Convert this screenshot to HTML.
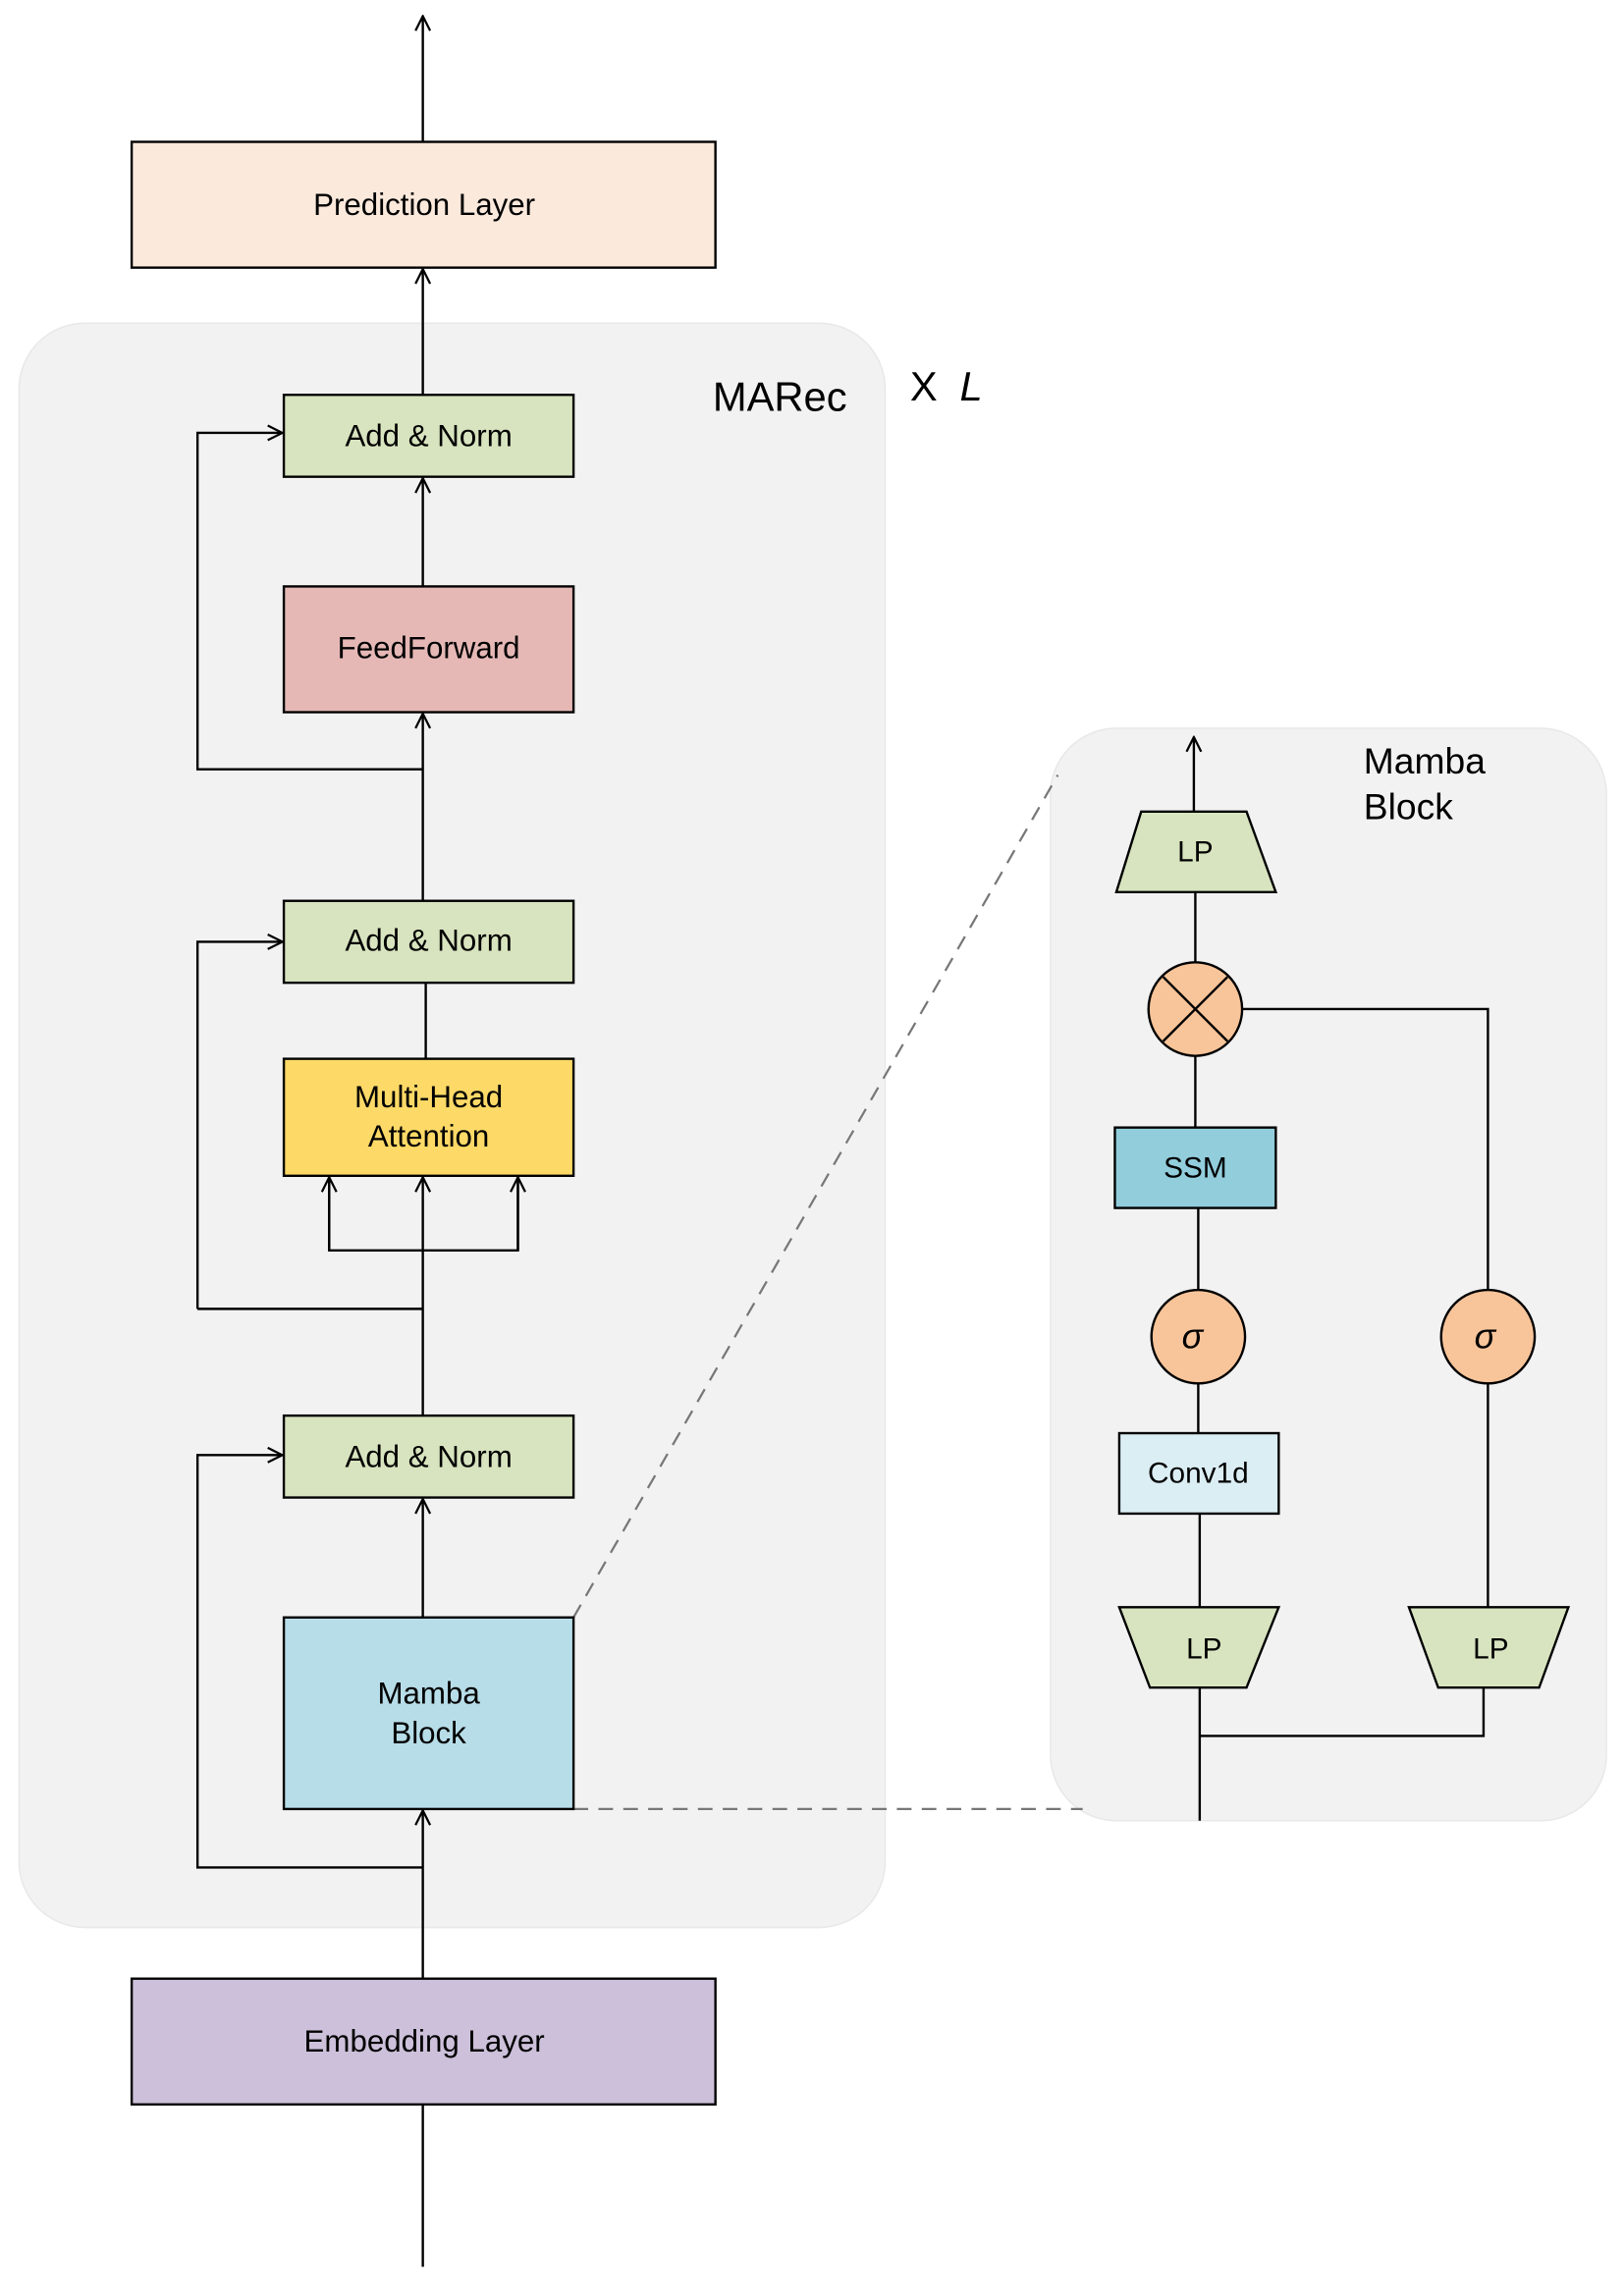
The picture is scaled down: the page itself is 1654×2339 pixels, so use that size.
<!DOCTYPE html>
<html><head><meta charset="utf-8"><style>
html,body{margin:0;padding:0;background:#fff;width:1654px;height:2339px;overflow:hidden}
svg{display:block}
text{font-family:"Liberation Sans","DejaVu Sans",sans-serif;fill:#000}
</style></head><body>
<svg width="1654" height="2339" viewBox="0 0 1110 1570" preserveAspectRatio="none" xmlns="http://www.w3.org/2000/svg">
<defs>
<marker id="a" viewBox="0 0 12 12" refX="11" refY="6" markerWidth="12" markerHeight="12" markerUnits="userSpaceOnUse" orient="auto">
<path d="M1,1 L11,6 L1,11" fill="none" stroke="#000" stroke-width="1.5"/>
</marker>
</defs>
<!-- panels -->
<rect x="13" y="221" width="592" height="1097" rx="45" fill="#f2f2f2" stroke="#e8e8e8"/>
<rect x="718" y="498" width="380" height="747" rx="45" fill="#f2f2f2" stroke="#e8e8e8"/>
<g stroke="#000" stroke-width="1.6" fill="none">
<line x1="289" y1="97" x2="289" y2="11" marker-end="url(#a)"/>
<line x1="289" y1="270" x2="289" y2="184" marker-end="url(#a)"/>
<line x1="289" y1="401" x2="289" y2="327" marker-end="url(#a)"/>
<polyline points="289,526 135,526 135,296 193,296" marker-end="url(#a)"/>
<line x1="289" y1="616" x2="289" y2="488" marker-end="url(#a)"/>
<line x1="291" y1="672" x2="291" y2="724"/>
<polyline points="135,895 135,644 193,644" marker-end="url(#a)"/>
<line x1="135" y1="895" x2="289" y2="895"/>
<line x1="289" y1="968" x2="289" y2="805" marker-end="url(#a)"/>
<polyline points="225,805 225,855 354,855 354,805"/>
<line x1="225" y1="855" x2="225" y2="805" marker-end="url(#a)"/>
<line x1="354" y1="855" x2="354" y2="805" marker-end="url(#a)"/>
<line x1="289" y1="1106" x2="289" y2="1025" marker-end="url(#a)"/>
<polyline points="289,1277 135,1277 135,995 193,995" marker-end="url(#a)"/>
<line x1="289" y1="1353" x2="289" y2="1238" marker-end="url(#a)"/>
<line x1="289" y1="1439" x2="289" y2="1550"/>
</g>
<g stroke="#777" stroke-width="1.5" stroke-dasharray="10,7" fill="none">
<line x1="392" y1="1106" x2="723" y2="530"/>
<line x1="392" y1="1237" x2="740" y2="1237"/>
</g>
<!-- left boxes -->
<g stroke="#000" stroke-width="1.6">
<rect x="90" y="97" width="399" height="86" fill="#fbe9dc"/>
<rect x="194" y="270" width="198" height="56" fill="#d8e4bf"/>
<rect x="194" y="401" width="198" height="86" fill="#e5b8b6"/>
<rect x="194" y="616" width="198" height="56" fill="#d8e4bf"/>
<rect x="194" y="724" width="198" height="80" fill="#fdd967"/>
<rect x="194" y="968" width="198" height="56" fill="#d8e4bf"/>
<rect x="194" y="1106" width="198" height="131" fill="#b7dde8"/>
<rect x="90" y="1353" width="399" height="86" fill="#ccc0da"/>
</g>
<g font-size="21" text-anchor="middle">
<text x="290" y="147">Prediction Layer</text>
<text x="293" y="305">Add &amp; Norm</text>
<text x="293" y="450">FeedForward</text>
<text x="293" y="650">Add &amp; Norm</text>
<text x="293" y="757">Multi-Head</text>
<text x="293" y="784">Attention</text>
<text x="293" y="1003">Add &amp; Norm</text>
<text x="293" y="1165">Mamba</text>
<text x="293" y="1192">Block</text>
<text x="290" y="1403">Embedding Layer</text>
</g>
<text x="533" y="281" font-size="28" text-anchor="middle">MARec</text>
<text x="622" y="274" font-size="28">X</text>
<text x="656" y="274" font-size="28" font-style="italic">L</text>
<text x="932" y="529" font-size="25">Mamba</text>
<text x="932" y="560" font-size="25">Block</text>
<!-- mamba internals -->
<g stroke="#000" stroke-width="1.6" fill="none">
<line x1="816" y1="555" x2="816" y2="504" marker-end="url(#a)"/>
<line x1="817" y1="610" x2="817" y2="658"/>
<polyline points="849,690 1017,690 1017,882"/>
<line x1="817" y1="722" x2="817" y2="771"/>
<line x1="819" y1="826" x2="819" y2="882"/>
<line x1="819" y1="946" x2="819" y2="980"/>
<line x1="820" y1="1035" x2="820" y2="1099"/>
<line x1="1017" y1="946" x2="1017" y2="1099"/>
<line x1="820" y1="1154" x2="820" y2="1245"/>
<polyline points="820,1187 1014,1187 1014,1154"/>
</g>
<g stroke="#000" stroke-width="1.6">
<polygon points="780,555 852,555 872,610 763,610" fill="#d8e4bf"/>
<ellipse cx="817" cy="690" rx="32" ry="32" fill="#f8c499"/>
<line x1="795" y1="668" x2="839" y2="712"/>
<line x1="839" y1="668" x2="795" y2="712"/>
<rect x="762" y="771" width="110" height="55" fill="#92cddc"/>
<ellipse cx="819" cy="914" rx="32" ry="32" fill="#f8c499"/>
<ellipse cx="1017" cy="914" rx="32" ry="32" fill="#f8c499"/>
<rect x="765" y="980" width="109" height="55" fill="#dbeef4"/>
<polygon points="765,1099 874,1099 852,1154 786,1154" fill="#d8e4bf"/>
<polygon points="963,1099 1072,1099 1052,1154 983,1154" fill="#d8e4bf"/>
</g>
<g font-size="20" text-anchor="middle">
<text x="817" y="589">LP</text>
<text x="817" y="805">SSM</text>
<text x="815" y="922" font-style="italic" font-size="24">σ</text>
<text x="1015" y="922" font-style="italic" font-size="24">σ</text>
<text x="819" y="1014">Conv1d</text>
<text x="823" y="1134">LP</text>
<text x="1019" y="1134">LP</text>
</g>
</svg>
</body></html>
